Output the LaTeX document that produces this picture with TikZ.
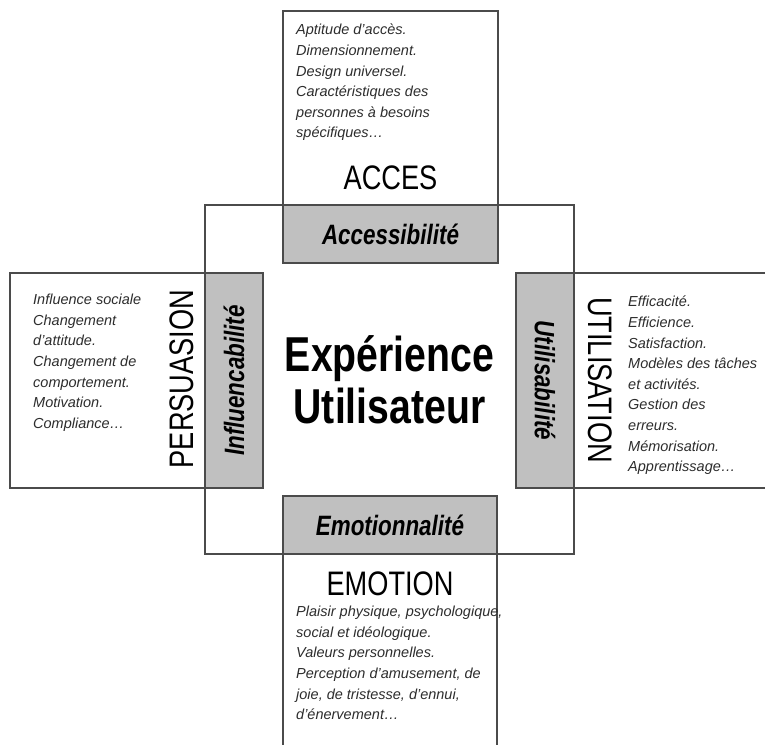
\documentclass[tikz,border=0pt]{standalone}
\usepackage{fontspec}
\setmainfont{Liberation Sans}
\newfontfamily\narrowsf{Liberation Sans}[FakeStretch=0.8]
\usetikzlibrary{positioning}
\definecolor{boxgrey}{RGB}{192,192,192}
\definecolor{linegrey}{RGB}{75,75,75}
\definecolor{textgrey}{RGB}{45,45,45}

\begin{document}
\begin{tikzpicture}[x=1pt,y=-1pt,
            frame/.style={draw=linegrey, line width=1.3pt, fill=white, inner sep=0pt},
            dim/.style={frame, fill=boxgrey, font=\narrowsf\bfseries\itshape\fontsize{28}{30}\selectfont},
            liste/.style={anchor=north west, inner sep=0pt, align=left, text=textgrey,
                          font=\fontsize{14.5}{20.6}\selectfont\itshape}]
             \useasboundingbox (0,0) rectangle (765,744);
             \clip (0,0) rectangle (765,744);

             \node [frame, fill=none, minimum width=369, minimum height=349, align=center,
                    font=\narrowsf\bfseries\fontsize{49}{52}\selectfont] at (389.5,379.5) (ux) {Expérience\\Utilisateur};

             \node [frame, minimum width=215, minimum height=252] at (390.5,137) (acces box) {};
             \node [frame, minimum width=253, minimum height=215] at (136.5,380.5) (persuasion box) {};
             \node [frame, minimum width=274, minimum height=215] at (653,380.5) (utilisation box) {};
             \node [frame, minimum width=214, minimum height=274] at (390,633) (emotion box) {};

             \node [dim, minimum width=215, minimum height=58] at (390.5,234) (accessibilite) {Accessibilité};
             \node [dim, rotate=90, minimum width=215, minimum height=58] at (234,380.5) (influencabilite) {Influencabilité};
             \node [dim, rotate=-90, minimum width=215, minimum height=58] at (545,380.5) (utilisabilite) {Utilisabilité};
             \node [dim, minimum width=214, minimum height=58] at (390,525) (emotionnalite) {Emotionnalité};

             \tikzstyle{domaine} = [inner sep=0pt, font=\narrowsf\fontsize{34}{36}\selectfont]

             \node [domaine, above=14pt of accessibilite] (acces) {ACCES};
             \node [domaine, below=17pt of emotionnalite] (emotion) {EMOTION};
             \node [domaine, rotate=90, anchor=base] at (193,379) (persuasion) {PERSUASION};
             \node [domaine, rotate=-90, anchor=base] at (588,380) (utilisation) {UTILISATION};

             \node [liste] at (296,24) (acces txt) {Aptitude d'accès.\\Dimensionnement.\\Design universel.\\Caractéristiques des\\personnes à besoins\\spécifiques…};
             \node [liste] at (33,294) (persuasion txt) {Influence sociale\\Changement\\d'attitude.\\Changement de\\comportement.\\Motivation.\\Compliance…};
             \node [liste] at (628,296) (utilisation txt) {Efficacité.\\Efficience.\\Satisfaction.\\Modèles des tâches\\et activités.\\Gestion des\\erreurs.\\Mémorisation.\\Apprentissage…};
             \node [liste] at (296,606) (emotion txt) {Plaisir physique, psychologique,\\social et idéologique.\\Valeurs personnelles.\\Perception d'amusement, de\\joie, de tristesse, d'ennui,\\d'énervement…};
\end{tikzpicture}
\end{document}
